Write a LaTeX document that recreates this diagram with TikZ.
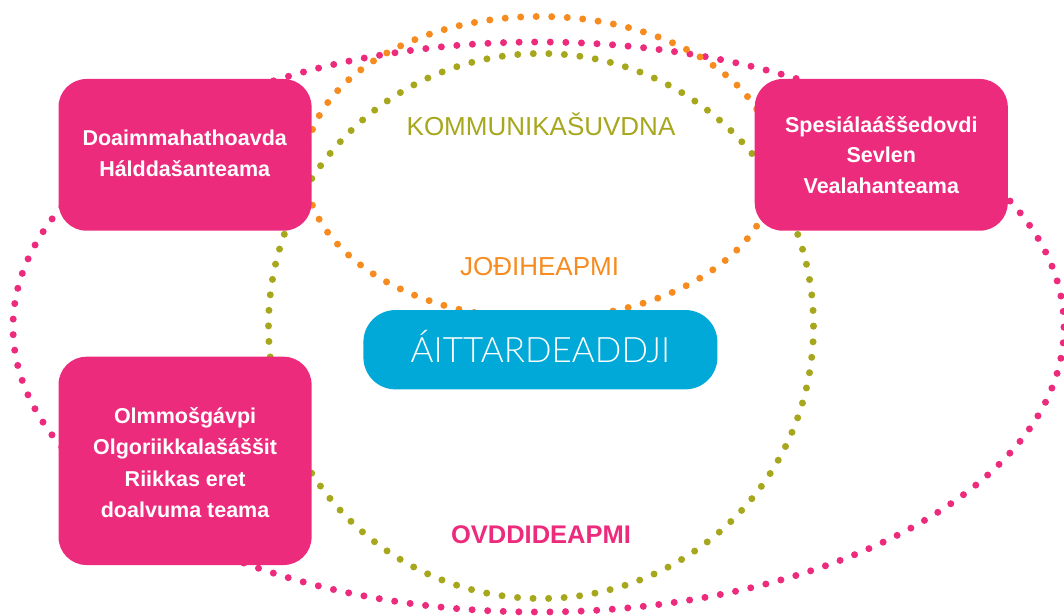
\documentclass[tikz,border=0pt]{standalone}
\usepackage{fontspec}
\setmainfont{Liberation Sans}
\newfontfamily\thinfont{Lato Light}
\definecolor{mag}{RGB}{236,43,125}
\definecolor{org}{RGB}{246,139,31}
\definecolor{oli}{RGB}{167,167,30}
\definecolor{sky}{RGB}{0,169,215}
\begin{document}
\begin{tikzpicture}[x=1pt,y=-1pt]
\tikzset{
  dotline/.style={line width=7pt, line cap=round, dash pattern=on 0pt off #1},
  teambox/.style={fill=mag, draw=none, rounded corners=28pt, minimum width=253.1pt, inner sep=0pt},
  teamtext/.style={text=white, font=\bfseries\fontsize{21.5}{30.5}\selectfont, align=center, inner sep=0pt},
  ringlabel/.style={font=\fontsize{26}{26}\selectfont, text height=18.6pt, text depth=0pt, inner sep=0pt}
}
\useasboundingbox (0,0) rectangle (1064,615);
% dotted rings
\draw[dotline=15.585pt, mag] (538.5,327) ellipse [x radius=525.5pt, y radius=285pt];
\draw[dotline=15.53pt, org] (540,167.5) ellipse [x radius=235pt, y radius=151pt];
\draw[dotline=15.565pt, oli] (541,326) circle [radius=272.5pt];
% team boxes
\node[teambox, minimum height=151.7pt] (b1) at (185.05,154.85) {};
\node[teambox, minimum height=151.7pt] (b2) at (881.25,154.85) {};
\node[teambox, minimum height=208.3pt] (b3) at (185.05,460.85) {};
\node[teamtext] (t1) at (184.7,153.2) {Doaimmahathoavda\\Hálddašanteama};
\node[teamtext] (t2) at (881.3,154.8) {Spesiálaáššedovdi\\Sevlen\\Vealahanteama};
\node[teamtext, font=\bfseries\fontsize{21.5}{31.5}\selectfont] (t3) at (185.1,462.7) {Olmmošgávpi\\Olgoriikkalašáššit\\Riikkas eret\\doalvuma teama};
% centre box
\node[fill=sky, rounded corners=32pt, minimum width=354pt, minimum height=79.3pt, inner sep=0pt,
      text=white, font=\thinfont\fontsize{35}{35}\selectfont, text height=25pt, text depth=0pt] (main) at (540.4,349.7) {ÁITTARDEADDJI};
% ring labels
\node[ringlabel, text=oli] (komm) at (541,125.8) {KOMMUNIKAŠUVDNA};
\node[ringlabel, text=org] (jod) at (539.6,266.3) {JOĐIHEAPMI};
\node[ringlabel, text=mag, font=\bfseries\fontsize{25.5}{25.5}\selectfont, text height=18.3pt] (ovd) at (541,534.7) {OVDDIDEAPMI};
\end{tikzpicture}
\end{document}
